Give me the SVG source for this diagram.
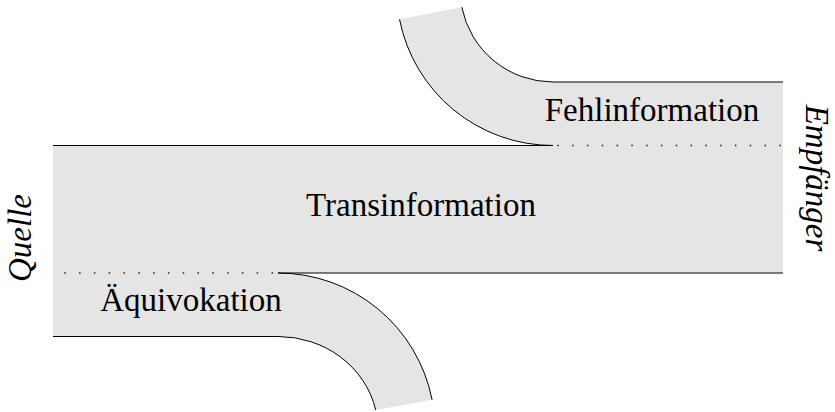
<svg xmlns="http://www.w3.org/2000/svg" width="835" height="412" viewBox="0 0 835 412">
  <style>
    .band { fill: #e5e5e5; stroke: none; }
    .edge { fill: none; stroke: #000; stroke-width: 1; }
    .dots { fill: none; stroke: #222; stroke-width: 1.3; stroke-dasharray: 1.5 13.3; }
    .label { font-family: "Liberation Serif", "Times New Roman", serif; font-size: 33px; fill: #000; }
    .end { font-style: italic; }
  </style>

  <!-- shaded channel: main band with the branching and merging streams -->
  <g id="channel">
    <path class="band" d="M 53 145.5 H 553 A 156.5 156.5 0 0 1 399.5 19.3 L 461.8 7.2 A 93 93 0 0 0 553 82 H 783 V 273 H 278 A 157 157 0 0 1 432.1 399.8 L 375.7 410 A 100 93.5 0 0 0 278 336.5 H 53 Z"/>
  </g>

  <!-- outlines and dotted boundaries -->
  <g id="connectors">
    <path class="edge" d="M 53 145.5 H 553 A 156.5 156.5 0 0 1 399.5 19.3"/>
    <path class="edge" d="M 461.8 7.2 A 93 93 0 0 0 553 82 H 783"/>
    <path class="edge" d="M 783 273 H 278 A 157 157 0 0 1 432.1 399.8"/>
    <path class="edge" d="M 375.7 410 A 100 93.5 0 0 0 278 336.5 H 53"/>
    <path class="dots" d="M 557.3 145.5 H 782"/>
    <path class="dots" d="M 64.3 273 H 275"/>
  </g>

  <g id="transinformation">
    <text class="label" x="421" y="216" text-anchor="middle">Transinformation</text>
  </g>
  <g id="fehlinformation">
    <text class="label" x="652" y="121" text-anchor="middle">Fehlinformation</text>
  </g>
  <g id="aequivokation">
    <text class="label" x="191" y="311" text-anchor="middle">Äquivokation</text>
  </g>
  <g id="quelle">
    <text class="label end" transform="translate(31,238) rotate(-90)" text-anchor="middle">Quelle</text>
  </g>
  <g id="empfaenger">
    <text class="label end" transform="translate(806,178) rotate(90)" text-anchor="middle">Empfänger</text>
  </g>
</svg>
